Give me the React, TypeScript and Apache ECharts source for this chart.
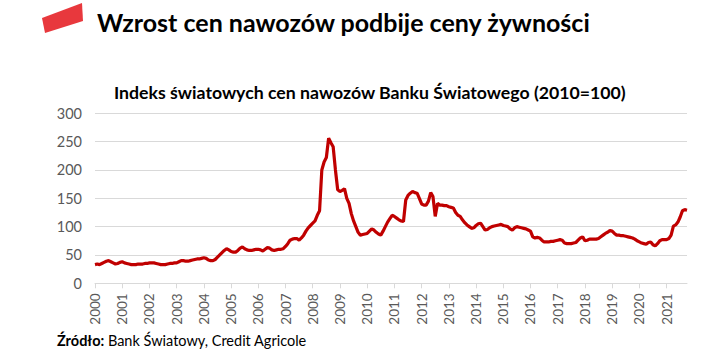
import React, { useEffect, useRef } from "react";
import * as echarts from "echarts";

const startYear = 2000;
const yearTicks = ["2000","2001","2002","2003","2004","2005","2006","2007","2008","2009","2010","2011","2012","2013","2014","2015","2016","2017","2018","2019","2020","2021"];

// Monthly index values (2010=100), Jan 2000 – Oct 2021
const fertilizerIndex = [
  33, 34, 33, 35, 37, 39, 40, 38, 36, 34, 35, 37, // 2000
  38, 36, 35, 34, 33, 33, 33, 34, 34, 34, 35, 35, // 2001
  36, 36, 36, 35, 34, 33, 33, 33, 34, 35, 35, 36, // 2002
  36, 38, 40, 40, 39, 39, 40, 41, 42, 43, 43, 44, // 2003
  45, 44, 41, 40, 40, 42, 46, 50, 54, 58, 61, 59, // 2004
  56, 55, 55, 58, 62, 64, 61, 59, 58, 58, 59, 60, // 2005
  60, 59, 57, 60, 63, 62, 59, 58, 59, 60, 60, 61, // 2006
  65, 70, 76, 78, 79, 79, 76, 80, 85, 92, 98, 102, // 2007
  106, 110, 120, 128, 200, 214, 222, 256, 248, 241, 200, 165, // 2008
  162, 164, 167, 150, 141, 123, 110, 100, 90, 85, 86, 87, // 2009
  88, 92, 96, 94, 90, 87, 85, 92, 100, 108, 114, 120, // 2010
  118, 115, 112, 110, 109, 147, 155, 159, 162, 160, 159, 150, // 2011
  140, 138, 138, 145, 160, 153, 118, 141, 138, 138, 137, 137, // 2012
  135, 134, 133, 125, 120, 118, 112, 107, 103, 100, 97, 98, // 2013
  102, 105, 106, 100, 94, 95, 98, 100, 101, 102, 103, 104, // 2014
  102, 101, 100, 96, 94, 98, 100, 99, 98, 97, 96, 94, // 2015
  92, 82, 80, 81, 80, 76, 73, 73, 73, 74, 74, 75, // 2016
  76, 77, 76, 71, 70, 70, 70, 71, 72, 76, 80, 82, // 2017
  75, 76, 78, 78, 78, 78, 79, 82, 85, 88, 90, 93, // 2018
  92, 88, 85, 85, 84, 84, 83, 82, 81, 80, 78, 75, // 2019
  73, 71, 70, 69, 72, 73, 68, 66, 70, 75, 77, 77, // 2020
  77, 79, 85, 101, 103, 108, 117, 128, 130, 129, // 2021
];

const months = fertilizerIndex.map((_, i) => {
  const y = startYear + Math.floor(i / 12);
  const m = (i % 12) + 1;
  return `${y}-${m < 10 ? "0" + m : m}`;
});

const mainTitle = "Wzrost cen nawozów podbije ceny żywności";
const chartTitle = "Indeks światowych cen nawozów Banku Światowego (2010=100)";
const sourceLabel = "Źródło:";
const sourceText = " Bank Światowy, Credit Agricole";

const FONT = "Lato, 'Open Sans', sans-serif";

export default function App() {
  const ref = useRef<HTMLDivElement>(null);

  useEffect(() => {
    document.body.style.margin = "0";
    if (!ref.current) return;
    const chart = echarts.init(ref.current, null, { renderer: "svg" });
    const isJan = (idx: number) => idx % 12 === 0;
    chart.setOption({
      animation: false,
      backgroundColor: "#ffffff",
      textStyle: { fontFamily: FONT },
      grid: { left: 95, right: 33, top: 113.3, bottom: 78.7, containLabel: false },
      xAxis: {
        type: "category",
        data: months,
        boundaryGap: false,
        axisLine: { show: true, lineStyle: { color: "#d9d9d9", width: 1 } },
        axisTick: { show: true, interval: (idx: number) => isJan(idx), length: 5, lineStyle: { color: "#d9d9d9" } },
        axisLabel: {
          interval: (idx: number) => isJan(idx),
          rotate: 90,
          margin: 10,
          color: "#595959",
          fontSize: 13.5,
          fontFamily: FONT,
          formatter: (v: string) => {
            const y = v.slice(0, 4);
            return yearTicks.includes(y) ? y : "";
          },
        },
        splitLine: { show: false },
      },
      yAxis: {
        type: "value",
        min: 0,
        max: 300,
        interval: 50,
        axisLine: { show: false },
        axisTick: { show: false },
        axisLabel: { color: "#595959", fontSize: 14.5, margin: 13, fontFamily: FONT },
        splitLine: { show: true, lineStyle: { color: "#d9d9d9", width: 1 } },
      },
      series: [
        {
          type: "line",
          data: fertilizerIndex,
          symbol: "none",
          lineStyle: { color: "#C00000", width: 3.2 },
          itemStyle: { color: "#C00000" },
        },
      ],
      graphic: [
        {
          type: "polygon",
          shape: { points: [[42, 18], [82, 3], [83, 21], [45, 33]] },
          style: { fill: "#e8383d" },
        },
        {
          type: "text",
          x: 97,
          y: 34,
          style: {
            text: mainTitle,
            font: `bold 25px ${FONT}`,
            fill: "#000000",
            verticalAlign: "bottom",
          },
        },
        {
          type: "text",
          x: 114,
          y: 101,
          style: {
            text: chartTitle,
            font: `bold 17.7px ${FONT}`,
            fill: "#000000",
            verticalAlign: "bottom",
          },
        },
        {
          type: "text",
          x: 57,
          y: 348,
          style: {
            text: `{b|${sourceLabel}}{r|${sourceText}}`,
            verticalAlign: "bottom",
            rich: {
              b: { font: `bold 14.5px ${FONT}`, fill: "#000000" },
              r: { font: `14.5px ${FONT}`, fill: "#000000" },
            },
          },
        },
      ],
    });
    return () => chart.dispose();
  }, []);

  return <div ref={ref} style={{ width: 720, height: 362 }} />;
}
